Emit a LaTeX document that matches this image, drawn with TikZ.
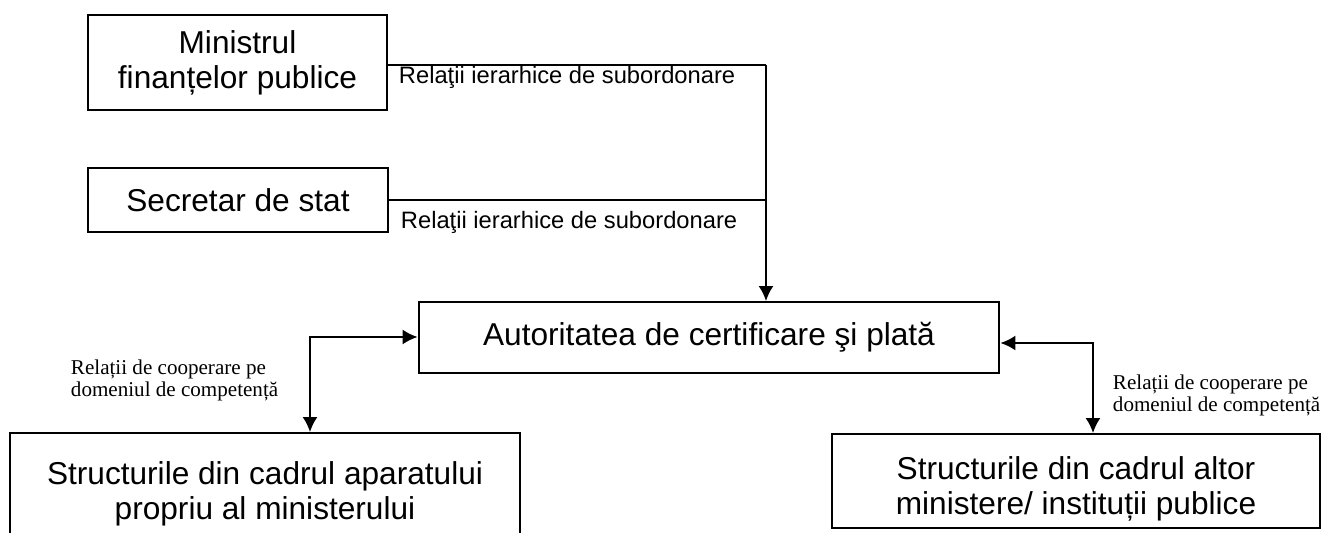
\documentclass[tikz,border=0pt]{standalone}
\usepackage{fontspec}
\setmainfont{Liberation Sans}
\newfontfamily\serifnote{Liberation Serif}
\usetikzlibrary{arrows.meta,positioning,calc}
\tikzset{>={Latex[length=3mm,width=3mm]}}

\begin{document}
\begin{tikzpicture}[x=0.02cm,y=-0.02cm,line width=1.1pt,
    box/.style={draw,rectangle,align=center,inner sep=0pt,font=\fontsize{18}{20}\selectfont},
    boxtext/.style={align=center,inner sep=0pt,font=\fontsize{18}{20}\selectfont},
    rel/.style={font=\fontsize{13.5}{16}\selectfont,inner sep=0pt},
    coop/.style={font=\serifnote\fontsize{12}{12.5}\selectfont,align=left,inner sep=0pt}]
    \clip (0,0) rectangle (1333,533);
    % boxes
    \node [box,minimum width=5.98cm,minimum height=1.9cm] (mfp) at (237.5,62.5) {Ministrul\\finanțelor publice};
    \node [box,minimum width=6cm,minimum height=1.28cm] (ss) at (238,200) {Secretar de stat};
    \node [box,minimum width=11.62cm,minimum height=1.42cm] (acp) at (709,337.5) {Autoritatea de certificare şi plată};
    \node [box,minimum width=10.2cm,minimum height=2.44cm] (sap) at (265,494) {Structurile din cadrul aparatului\\propriu al ministerului};
    \node [box,minimum width=9.76cm,minimum height=1.88cm] (som) at (1076,481) {};
    \node [boxtext] (somtxt) at (1076,489) {Structurile din cadrul altor\\ministere/ instituții publice};

    % subordonare
    \coordinate (top) at (766,65);
    \draw (mfp.east |- top) -- (top);
    \draw [->] (top) -- (top |- acp.north);
    \draw (ss.east) -- (ss.east -| top);
    \node [rel,anchor=west] (r1) at (398,77) {Relaţii ierarhice de subordonare};
    \node [rel,anchor=west] (r2) at (400,222) {Relaţii ierarhice de subordonare};

    % cooperare
    \coordinate (lc) at (310,337);
    \draw [<->] (lc |- sap.north) -- (lc) -- (lc -| acp.west);
    \node [coop,anchor=north west] (c1) at (70,359) {Relații de cooperare pe\\domeniul de competență};
    \coordinate (rc) at (1093,343);
    \draw [<->] (rc -| acp.east) -- (rc) -- (rc |- som.north);
    \node [coop,anchor=north west] (c2) at (1112,374) {Relații de cooperare pe\\domeniul de competență};
\end{tikzpicture}
\end{document}
